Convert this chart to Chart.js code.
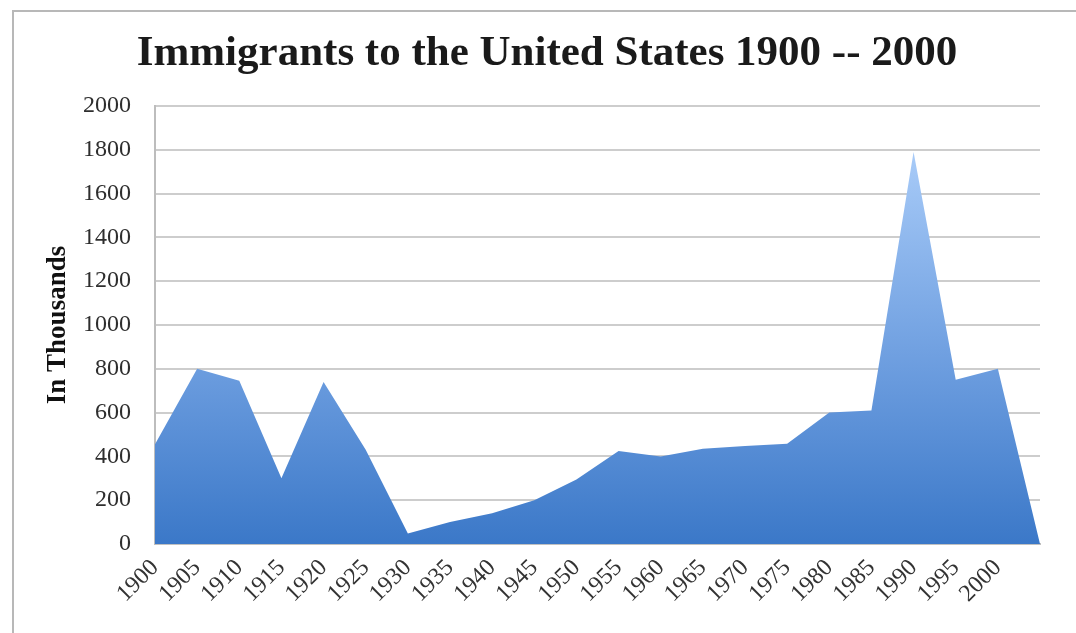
<!DOCTYPE html>
<html><head><meta charset="utf-8">
<script src="https://cdn.jsdelivr.net/npm/chart.js@4"></script>
<style>
html,body{margin:0;padding:0;background:#fff;overflow:hidden;}
#frame{position:absolute;left:12px;top:10px;width:1100px;height:640px;border:2px solid #b8b8b8;box-sizing:border-box;}
#wrap{position:absolute;left:0;top:0;width:1076px;height:633px;}
</style></head><body>
<div id="frame"></div>
<div id="wrap"><canvas id="c" width="1076" height="633"></canvas></div>
<script>
const chartTitle = 'Immigrants to the United States 1900 -- 2000';
const yAxisTitle = 'In Thousands';
const categories = ['1900','1905','1910','1915','1920','1925','1930','1935','1940','1945','1950','1955','1960','1965','1970','1975','1980','1985','1990','1995','2000',''];
const immigrants = [455,800,745,300,740,430,48,100,140,200,295,425,400,435,447,458,600,610,1790,750,800,0];
const yMin = 0, yMax = 2000, yStep = 200;

const fillGradient = (context) => {
  const {chart} = context;
  const area = chart.chartArea;
  if (!area) return '#3f7ccb';
  const y = chart.scales.y;
  const top = y.getPixelForValue(Math.max(...immigrants));
  const g = chart.ctx.createLinearGradient(0, top, 0, area.bottom);
  g.addColorStop(0, '#a8cbf8');
  g.addColorStop(0.55, '#6c9ddf');
  g.addColorStop(1, '#3b78c8');
  return g;
};

new Chart(document.getElementById('c'), {
  type: 'line',
  data: {
    labels: categories,
    datasets: [{
      label: 'Immigrants',
      data: immigrants,
      fill: 'origin',
      backgroundColor: fillGradient,
      borderWidth: 0,
      borderColor: 'rgba(0,0,0,0)',
      pointRadius: 0,
      tension: 0
    }]
  },
  options: {
    responsive: false,
    animation: false,
    devicePixelRatio: 1,
    layout: {padding: {left: 54, right: 36, top: 0, bottom: 0}},
    plugins: {
      legend: {display: false},
      tooltip: {enabled: false},
      title: {
        display: true,
        text: chartTitle,
        color: '#1a1a1a',
        font: {family: 'Liberation Serif', weight: 'bold', size: 43},
        padding: {top: 28, bottom: 26.4}
      }
    },
    scales: {
      x: {
        offset: false,
        grid: {display: false, drawTicks: false},
        border: {display: true, color: '#c0c0c0', width: 2},
        ticks: {
          autoSkip: false, maxRotation: 45, minRotation: 45, padding: 10,
          color: '#333', font: {family: 'Liberation Serif', size: 24}
        },
        afterFit: (s) => { s.height = 89; }
      },
      y: {
        min: yMin, max: yMax,
        grid: {color: '#cdcdcd', lineWidth: 2, drawTicks: false},
        border: {display: true, color: '#bdbdbd', width: 2},
        ticks: {
          stepSize: yStep, padding: 24,
          color: '#2e2e2e', font: {family: 'Liberation Serif', size: 24},
          callback: (v) => String(v)
        },
        title: {
          display: true, text: yAxisTitle, color: '#111',
          font: {family: 'Liberation Serif', weight: 'bold', size: 27},
          padding: {top: -12, bottom: 0}
        },
        afterFit: (s) => { s.width = 101; }
      }
    }
  }
});
</script>
</body></html>
